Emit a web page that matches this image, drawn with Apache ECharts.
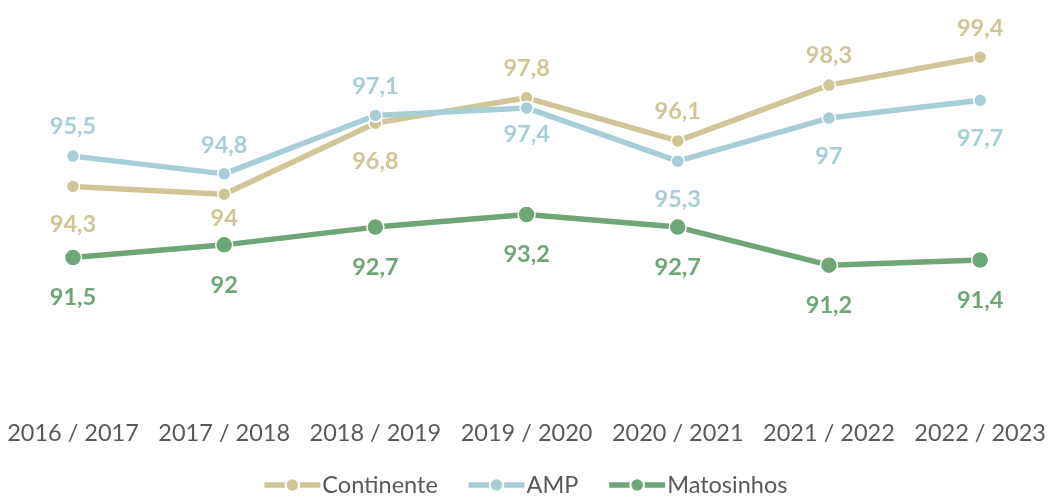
<!DOCTYPE html>
<html>
<head>
<meta charset="utf-8">
<script src="https://cdn.jsdelivr.net/npm/echarts@6/dist/echarts.min.js"></script>
<style>
  html, body { margin: 0; padding: 0; background: #fff; }
  #main { width: 1049px; height: 498px; }
</style>
</head>
<body>
<div id="main"></div>
<script>
const categories = ['2016 / 2017', '2017 / 2018', '2018 / 2019', '2019 / 2020', '2020 / 2021', '2021 / 2022', '2022 / 2023'];
const continente = [94.3, 94, 96.8, 97.8, 96.1, 98.3, 99.4];
const amp = [95.5, 94.8, 97.1, 97.4, 95.3, 97, 97.7];
const matosinhos = [91.5, 92, 92.7, 93.2, 92.7, 91.2, 91.4];

// label placement per point: [position, distance]
const continenteLabels = [['bottom', 19], ['bottom', 5], ['bottom', 19], ['top', 10], ['top', 10], ['top', 10], ['top', 10]];
const ampLabels = [['top', 10], ['top', 9], ['top', 10], ['bottom', 7], ['bottom', 19], ['bottom', 19], ['bottom', 19]];

const font = 'Lato, "Open Sans", sans-serif';

function fmt(v) {
  return String(v).replace('.', ',');
}

function withLabels(values, labels) {
  return values.map(function (v, i) {
    return { value: v, label: { position: labels[i][0], distance: labels[i][1] } };
  });
}

function lineSeries(name, data, color, size, dist) {
  return {
    name: name,
    type: 'line',
    data: data,
    symbol: 'circle',
    symbolSize: size,
    lineStyle: { width: 5.5, color: color },
    itemStyle: { color: color, borderColor: '#fff', borderWidth: 1.5 },
    label: {
      show: true,
      position: 'bottom',
      distance: dist,
      color: color,
      fontFamily: font,
      fontWeight: 'bold',
      fontSize: 23.5,
      formatter: function (p) { return fmt(p.value); }
    }
  };
}

const chart = echarts.init(document.getElementById('main'));

chart.setOption({
  animation: false,
  backgroundColor: '#fff',
  grid: { left: 73, right: 68, top: 42, bottom: 101 },
  legend: {
    top: 468,
    itemWidth: 56,
    itemHeight: 17,
    itemGap: 28,
    lineStyle: { width: 5.5 },
    textStyle: { color: '#595959', fontSize: 23.5, fontFamily: font, padding: [0, 0, 0, -3] },
    data: ['Continente', 'AMP', 'Matosinhos']
  },
  xAxis: {
    type: 'category',
    data: categories,
    boundaryGap: false,
    axisLine: { show: false },
    axisTick: { show: false },
    axisLabel: { color: '#595959', fontSize: 23.5, fontFamily: font, margin: 24, interval: 0 }
  },
  yAxis: {
    type: 'value',
    min: 86,
    max: 100,
    show: false,
    splitLine: { show: false }
  },
  series: [
    lineSeries('Continente', withLabels(continente, continenteLabels), '#cfc596', 13, 19),
    lineSeries('AMP', withLabels(amp, ampLabels), '#a7cdd6', 13, 19),
    lineSeries('Matosinhos', matosinhos, '#6ea677', 17, 19)
  ]
});
</script>
</body>
</html>
